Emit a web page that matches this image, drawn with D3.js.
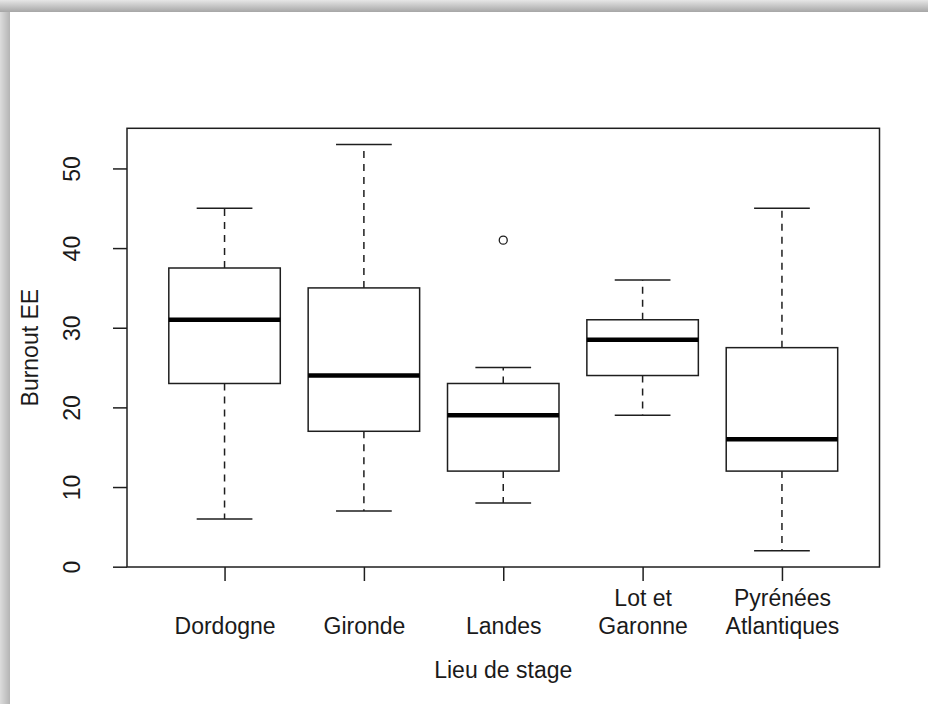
<!DOCTYPE html>
<html>
<head>
<meta charset="utf-8">
<script src="https://cdn.jsdelivr.net/npm/d3@7"></script>
<style>
  body { margin: 0; background: #fff; }
  text { font-family: "Liberation Sans", Arial, sans-serif; fill: #1a1a1a; }
</style>
</head>
<body>
<script>
// box plot values
var categories = ["Dordogne", "Gironde", "Landes", "Lot et\nGaronne", "Pyrénées\nAtlantiques"];
var whiskerLow = [6, 7, 8, 19, 2];
var q1 = [23, 17, 12, 24, 12];
var medians = [31, 24, 19, 28.5, 16];
var q3 = [37.5, 35, 23, 31, 27.5];
var whiskerHigh = [45, 53, 25, 36, 45];
var outliers = [[], [], [41], [], []];
var yTicks = [0, 10, 20, 30, 40, 50];

var w = 928;
var h = 704;

var svg = d3.select("body").append("svg").attr("width", w).attr("height", h);

// the grey shadow on the top and left edges of the card
var defs = svg.append("defs");
var gTop = defs.append("linearGradient").attr("id", "shTop").attr("x1", 0).attr("y1", 0).attr("x2", 0).attr("y2", 1);
gTop.append("stop").attr("offset", 0).attr("stop-color", "#e6e6e6");
gTop.append("stop").attr("offset", 1).attr("stop-color", "#a6a6a6");
var gLeft = defs.append("linearGradient").attr("id", "shLeft").attr("x1", 0).attr("y1", 0).attr("x2", 1).attr("y2", 0);
gLeft.append("stop").attr("offset", 0).attr("stop-color", "#dcdcdc");
gLeft.append("stop").attr("offset", 1).attr("stop-color", "#b4b4b4");
svg.append("rect").attr("x", 0).attr("y", 0).attr("width", 10).attr("height", h).attr("fill", "url(#shLeft)");
svg.append("rect").attr("x", 0).attr("y", 0).attr("width", w).attr("height", 12).attr("fill", "url(#shTop)");

// scales (R style: 4% padding around the data range)
var x = d3.scaleLinear().domain([0.3, 5.7]).range([127, 879.5]);
var y = d3.scaleLinear().domain([-0.04, 55.04]).range([567, 128.3]);
var unit = x(1) - x(0);

var ink = "#1e1e1e";

// frame around the plot
svg.append("rect")
  .attr("x", x(0.3)).attr("y", y(55.04))
  .attr("width", x(5.7) - x(0.3)).attr("height", y(-0.04) - y(55.04))
  .attr("fill", "none").attr("stroke", ink).attr("stroke-width", 1.5);

// y axis, labels turned like in R
var yAxis = svg.append("g")
  .attr("transform", "translate(" + x(0.3) + ",0)")
  .call(d3.axisLeft(y).tickValues(yTicks).tickSize(14).tickFormat(d3.format("d")));
yAxis.select(".domain").remove();
yAxis.selectAll(".tick line").attr("stroke", ink).attr("stroke-width", 1.5);
yAxis.selectAll(".tick text")
  .attr("x", 0).attr("dy", null).attr("y", -47)
  .attr("text-anchor", "middle")
  .attr("transform", "rotate(-90)")
  .style("font-size", "23px").attr("fill", ink);

// x axis with the place names
var xAxis = svg.append("g")
  .attr("transform", "translate(0," + y(-0.04) + ")")
  .call(d3.axisBottom(x).tickValues([1, 2, 3, 4, 5]).tickSize(14).tickFormat(function (d) {
    return categories[d - 1];
  }));
xAxis.select(".domain").remove();
xAxis.selectAll(".tick line").attr("stroke", ink).attr("stroke-width", 1.5);
xAxis.selectAll(".tick text").each(function (d) {
  var lines = categories[d - 1].split("\n");
  var t = d3.select(this).text(null).attr("y", null).attr("dy", null)
    .style("font-size", "23px").attr("fill", ink);
  lines.forEach(function (l, i) {
    t.append("tspan").attr("x", 0).attr("y", 66.5 - (lines.length - 1 - i) * 28).text(l);
  });
});

// axis titles
svg.append("text")
  .attr("x", (x(0.3) + x(5.7)) / 2).attr("y", 678)
  .attr("text-anchor", "middle").style("font-size", "23px")
  .text("Lieu de stage");

svg.append("text")
  .attr("transform", "translate(38," + (y(-0.04) + y(55.04)) / 2 + ") rotate(-90)")
  .attr("text-anchor", "middle").style("font-size", "23px")
  .text("Burnout EE");

// one group per box
var idx = d3.range(categories.length);
var boxes = svg.selectAll(".box").data(idx).enter().append("g").attr("class", "box");

// whiskers, dashed, from box edge outwards
boxes.append("line")
  .attr("x1", function (i) { return x(i + 1); }).attr("x2", function (i) { return x(i + 1); })
  .attr("y1", function (i) { return y(q3[i]); }).attr("y2", function (i) { return y(whiskerHigh[i]); })
  .attr("stroke", ink).attr("stroke-width", 1.5).attr("stroke-dasharray", "7,6");
boxes.append("line")
  .attr("x1", function (i) { return x(i + 1); }).attr("x2", function (i) { return x(i + 1); })
  .attr("y1", function (i) { return y(q1[i]); }).attr("y2", function (i) { return y(whiskerLow[i]); })
  .attr("stroke", ink).attr("stroke-width", 1.5).attr("stroke-dasharray", "7,6");

// whisker caps
[whiskerHigh, whiskerLow].forEach(function (arr) {
  boxes.append("line")
    .attr("x1", function (i) { return x(i + 1) - unit * 0.2; })
    .attr("x2", function (i) { return x(i + 1) + unit * 0.2; })
    .attr("y1", function (i) { return y(arr[i]); }).attr("y2", function (i) { return y(arr[i]); })
    .attr("stroke", ink).attr("stroke-width", 1.5);
});

// the boxes
boxes.append("rect")
  .attr("x", function (i) { return x(i + 1) - unit * 0.4; })
  .attr("width", unit * 0.8)
  .attr("y", function (i) { return y(q3[i]); })
  .attr("height", function (i) { return y(q1[i]) - y(q3[i]); })
  .attr("fill", "#fff").attr("stroke", ink).attr("stroke-width", 1.5);

// medians
boxes.append("line")
  .attr("x1", function (i) { return x(i + 1) - unit * 0.4; })
  .attr("x2", function (i) { return x(i + 1) + unit * 0.4; })
  .attr("y1", function (i) { return y(medians[i]); }).attr("y2", function (i) { return y(medians[i]); })
  .attr("stroke", "#000").attr("stroke-width", 4.5);

// outliers
boxes.each(function (i) {
  d3.select(this).selectAll("circle").data(outliers[i]).enter().append("circle")
    .attr("cx", x(i + 1)).attr("cy", function (v) { return y(v); })
    .attr("r", 4).attr("fill", "none").attr("stroke", ink).attr("stroke-width", 1.3);
});
</script>
</body>
</html>
